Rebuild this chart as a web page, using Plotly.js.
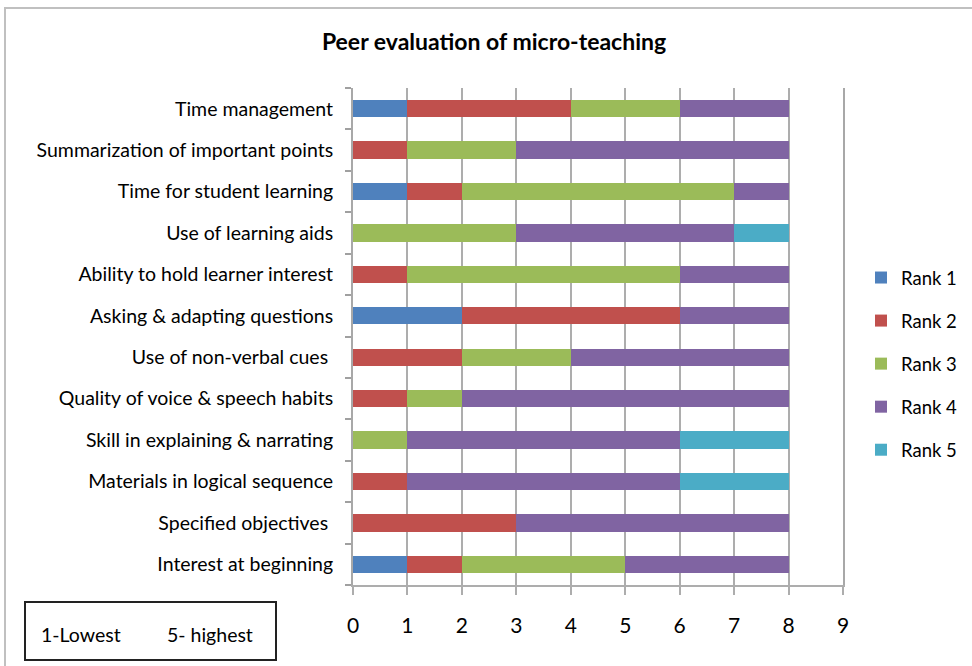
<!DOCTYPE html>
<html>
<head>
<meta charset="utf-8">
<script src="https://cdn.plot.ly/plotly-3.0.1.min.js"></script>
<style>html,body{margin:0;padding:0;background:#fff;}#chart{width:972px;height:666px;}</style>
</head>
<body>
<div id="chart"></div>
<script>
// Categories from bottom to top
const categories = [
  "Interest at beginning",
  "Specified objectives ",
  "Materials in logical sequence",
  "Skill in explaining & narrating",
  "Quality of voice & speech habits",
  "Use of non-verbal cues ",
  "Asking & adapting questions",
  "Ability to hold learner interest",
  "Use of learning aids",
  "Time for student learning",
  "Summarization of important points",
  "Time management"
];
const rank1 = [1, 0, 0, 0, 0, 0, 2, 0, 0, 1, 0, 1];
const rank2 = [1, 3, 1, 0, 1, 2, 4, 1, 0, 1, 1, 3];
const rank3 = [3, 0, 0, 1, 1, 2, 0, 5, 3, 5, 2, 2];
const rank4 = [3, 5, 5, 5, 6, 4, 2, 2, 4, 1, 5, 2];
const rank5 = [0, 0, 2, 2, 0, 0, 0, 0, 1, 0, 0, 0];
const seriesNames = ["Rank 1", "Rank 2", "Rank 3", "Rank 4", "Rank 5"];

const colors = ["#4F81BD", "#C0504D", "#9BBB59", "#8064A2", "#4BACC6"];
const allSeries = [rank1, rank2, rank3, rank4, rank5];

const traces = allSeries.map((vals, i) => ({
  type: "bar",
  orientation: "h",
  name: seriesNames[i],
  y: categories,
  x: vals,
  marker: {color: colors[i], line: {width: 0}},
  legendgroup: "g" + i,
  hoverinfo: "x+name"
}));

// pixel helpers for paper coordinates
const L = 353, R = 843, T = 88, B = 585;
const px = v => (v - L) / (R - L);
const py = v => (B - v) / (B - T);

const FONT = "Lato, 'Open Sans', sans-serif";

const layout = {
  width: 972,
  height: 666,
  margin: {l: L, r: 972 - R, t: T, b: 666 - B, pad: 0, autoexpand: false},
  paper_bgcolor: "#fff",
  plot_bgcolor: "#fff",
  barmode: "stack",
  bargap: 0.58,
  font: {family: FONT, color: "#000", size: 17},
  title: {
    text: "<b>Peer evaluation of micro-teaching</b>",
    font: {family: FONT, size: 23, color: "#000"},
    x: 494 / 972, xanchor: "center", xref: "container",
    y: 1 - 42 / 666, yanchor: "middle", yref: "container"
  },
  xaxis: {
    type: "linear",
    range: [0, 9],
    tickmode: "linear",
    tick0: 0,
    dtick: 1,
    showgrid: true,
    gridcolor: "#adadad",
    gridwidth: 2,
    zeroline: false,
    showline: true,
    linecolor: "#adadad",
    linewidth: 2,
    ticks: "outside",
    ticklen: 8,
    tickwidth: 2,
    tickcolor: "#adadad",
    tickfont: {family: FONT, size: 21, color: "#000"},
    ticklabelstandoff: 13,
    fixedrange: true
  },
  yaxis: {
    type: "category",
    categoryorder: "array",
    categoryarray: categories,
    showgrid: false,
    zeroline: false,
    showline: true,
    mirror: true,
    linecolor: "#a8a8a8",
    linewidth: 2,
    ticks: "outside",
    tickson: "boundaries",
    ticklen: 6,
    tickwidth: 2,
    tickcolor: "#a0a0a0",
    tickfont: {family: FONT, size: 19.5, color: "#000"},
    ticklabelstandoff: 14,
    fixedrange: true
  },
  legend: {
    x: px(861), xanchor: "left",
    y: py(259), yanchor: "top",
    traceorder: "grouped",
    tracegroupgap: 16,
    font: {family: FONT, size: 18.5, color: "#000"},
    itemwidth: 30,
    bgcolor: "rgba(0,0,0,0)"
  },
  shapes: [
    // outer chart border
    {type: "rect", xref: "paper", yref: "paper",
     x0: px(5), x1: px(990), y0: py(690), y1: py(8),
     line: {color: "#c0c0c0", width: 2}, fillcolor: "rgba(0,0,0,0)"},
    // note box
    {type: "rect", xref: "paper", yref: "paper",
     x0: px(25), x1: px(276), y0: py(660), y1: py(602),
     line: {color: "#222", width: 2}, fillcolor: "rgba(0,0,0,0)"}
  ],
  annotations: [
    {text: "1-Lowest", xref: "paper", yref: "paper", x: px(81), y: py(634),
     xanchor: "center", yanchor: "middle", showarrow: false,
     font: {family: FONT, size: 19.5, color: "#000"}},
    {text: "5- highest", xref: "paper", yref: "paper", x: px(210), y: py(634),
     xanchor: "center", yanchor: "middle", showarrow: false,
     font: {family: FONT, size: 19.5, color: "#000"}}
  ],
  showlegend: true
};

Plotly.newPlot("chart", traces, layout, {displayModeBar: false, staticPlot: true});
</script>
</body>
</html>
